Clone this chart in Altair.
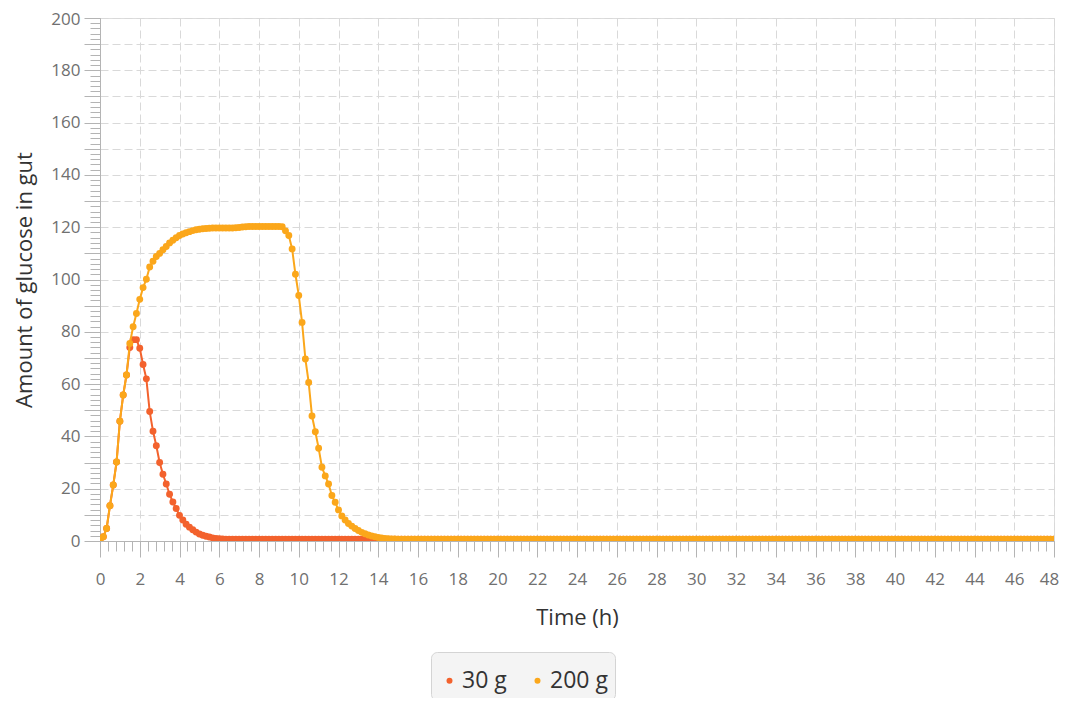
import altair as alt
import pandas as pd

# Amount of glucose in gut, sampled every 10 minutes from t = 0 h
g30 = [
    0.0, 1.6, 4.8, 13.5, 21.4, 30.2, 45.8, 55.8, 63.5, 74.0, 77.0, 77.0,
    73.7, 67.5, 62.0, 49.5, 42.0, 36.4, 30.0, 25.5, 21.8, 17.9, 14.9, 12.4,
    9.8, 8.0, 6.4, 5.3, 4.3, 3.4, 2.7, 2.2, 1.8, 1.5, 1.2, 1.0, 0.9, 0.8,
    0.7, 0.7, 0.7, 0.7, 0.7, 0.7, 0.7, 0.7, 0.7, 0.7, 0.7, 0.7, 0.7, 0.7, 0.7, 0.7, 0.7, 0.7, 0.7, 0.7,
    0.7, 0.7, 0.7, 0.7, 0.7, 0.7, 0.7, 0.7, 0.7, 0.7, 0.7, 0.7, 0.7, 0.7, 0.7, 0.7, 0.7, 0.7, 0.7, 0.7,
    0.7, 0.7, 0.7, 0.7, 0.7, 0.7, 0.7, 0.7, 0.7, 0.7, 0.7, 0.7, 0.7, 0.7, 0.7, 0.7, 0.7, 0.7, 0.7, 0.7,
    0.7, 0.7, 0.7, 0.7, 0.7, 0.7, 0.7, 0.7, 0.7, 0.7, 0.7, 0.7, 0.7, 0.7, 0.7, 0.7, 0.7, 0.7, 0.7, 0.7,
    0.7, 0.7, 0.7, 0.7, 0.7, 0.7, 0.7, 0.7, 0.7, 0.7, 0.7, 0.7, 0.7, 0.7, 0.7, 0.7, 0.7, 0.7, 0.7, 0.7,
    0.7, 0.7, 0.7, 0.7, 0.7, 0.7, 0.7, 0.7, 0.7, 0.7, 0.7, 0.7, 0.7, 0.7, 0.7, 0.7, 0.7, 0.7, 0.7, 0.7,
    0.7, 0.7, 0.7, 0.7, 0.7, 0.7, 0.7, 0.7, 0.7, 0.7, 0.7, 0.7, 0.7, 0.7, 0.7, 0.7, 0.7, 0.7, 0.7, 0.7,
    0.7, 0.7, 0.7, 0.7, 0.7, 0.7, 0.7, 0.7, 0.7, 0.7, 0.7, 0.7, 0.7, 0.7, 0.7, 0.7, 0.7, 0.7, 0.7, 0.7,
    0.7, 0.7, 0.7, 0.7, 0.7, 0.7, 0.7, 0.7, 0.7, 0.7, 0.7, 0.7, 0.7, 0.7, 0.7, 0.7, 0.7, 0.7, 0.7, 0.7,
    0.7, 0.7, 0.7, 0.7, 0.7, 0.7, 0.7, 0.7, 0.7, 0.7, 0.7, 0.7, 0.7, 0.7, 0.7, 0.7, 0.7, 0.7, 0.7, 0.7,
    0.7, 0.7, 0.7, 0.7, 0.7, 0.7, 0.7, 0.7, 0.7, 0.7, 0.7, 0.7, 0.7, 0.7, 0.7, 0.7, 0.7, 0.7, 0.7, 0.7,
    0.7, 0.7, 0.7, 0.7, 0.7, 0.7, 0.7, 0.7, 0.7, 0.7, 0.7, 0.7, 0.7, 0.7, 0.7, 0.7, 0.7, 0.7, 0.7, 0.7,
    0.7, 0.7, 0.7, 0.7, 0.7, 0.7, 0.7, 0.7, 0.7, 0.7, 0.7,
]

g200 = [
    0.0, 1.6, 4.8, 13.5, 21.4, 30.2, 45.8, 55.8, 63.5, 75.5, 81.9, 87.0,
    92.4, 96.9, 100.1, 104.8, 107.0, 108.8, 110.0, 111.4, 112.6, 114.0, 115.0, 116.0,
    116.8, 117.4, 117.9, 118.3, 118.7, 119.0, 119.2, 119.4, 119.5, 119.6,
    119.7, 119.7, 119.7, 119.7, 119.7, 119.7, 119.7, 119.8, 119.9,
    120.1, 120.2, 120.3, 120.3, 120.3, 120.3, 120.3, 120.3, 120.3, 120.3, 120.3, 120.3, 120.2,
    118.6, 116.8, 111.7, 102.0, 93.9, 83.6, 69.6, 60.6, 47.8, 41.8, 35.5, 28.2,
    24.9, 21.8, 17.4, 14.8, 11.9, 9.6, 8.0, 6.7, 5.7, 4.8, 4.0, 3.3,
    2.8, 2.3, 1.9, 1.6, 1.35, 1.15, 1.0, 0.9, 0.8, 0.75, 0.7,
    0.7, 0.7, 0.7, 0.7, 0.7, 0.7, 0.7, 0.7, 0.7, 0.7, 0.7, 0.7, 0.7, 0.7, 0.7, 0.7, 0.7, 0.7, 0.7, 0.7,
    0.7, 0.7, 0.7, 0.7, 0.7, 0.7, 0.7, 0.7, 0.7, 0.7, 0.7, 0.7, 0.7, 0.7, 0.7, 0.7, 0.7, 0.7, 0.7, 0.7,
    0.7, 0.7, 0.7, 0.7, 0.7, 0.7, 0.7, 0.7, 0.7, 0.7, 0.7, 0.7, 0.7, 0.7, 0.7, 0.7, 0.7, 0.7, 0.7, 0.7,
    0.7, 0.7, 0.7, 0.7, 0.7, 0.7, 0.7, 0.7, 0.7, 0.7, 0.7, 0.7, 0.7, 0.7, 0.7, 0.7, 0.7, 0.7, 0.7, 0.7,
    0.7, 0.7, 0.7, 0.7, 0.7, 0.7, 0.7, 0.7, 0.7, 0.7, 0.7, 0.7, 0.7, 0.7, 0.7, 0.7, 0.7, 0.7, 0.7, 0.7,
    0.7, 0.7, 0.7, 0.7, 0.7, 0.7, 0.7, 0.7, 0.7, 0.7, 0.7, 0.7, 0.7, 0.7, 0.7, 0.7, 0.7, 0.7, 0.7, 0.7,
    0.7, 0.7, 0.7, 0.7, 0.7, 0.7, 0.7, 0.7, 0.7, 0.7, 0.7, 0.7, 0.7, 0.7, 0.7, 0.7, 0.7, 0.7, 0.7, 0.7,
    0.7, 0.7, 0.7, 0.7, 0.7, 0.7, 0.7, 0.7, 0.7, 0.7, 0.7, 0.7, 0.7, 0.7, 0.7, 0.7, 0.7, 0.7, 0.7, 0.7,
    0.7, 0.7, 0.7, 0.7, 0.7, 0.7, 0.7, 0.7, 0.7, 0.7, 0.7, 0.7, 0.7, 0.7, 0.7, 0.7, 0.7, 0.7, 0.7, 0.7,
    0.7, 0.7, 0.7, 0.7, 0.7, 0.7, 0.7, 0.7, 0.7, 0.7, 0.7, 0.7, 0.7, 0.7, 0.7, 0.7, 0.7, 0.7,
]

series_names = ["30 g", "200 g"]
series_colors = ["#f3622d", "#fba71b"]
step_minutes = 10

x_major = list(range(0, 49, 2))
x_minor = [round(i * 0.4, 1) for i in range(121)]
y_major = list(range(0, 201, 10))
y_minor = list(range(0, 201, 2))

rows = []
for name, vals in zip(series_names, [g30, g200]):
    for i, v in enumerate(vals):
        rows.append({"t": i * step_minutes / 60.0, "v": v, "s": name})
df = pd.DataFrame(rows)

FONT = "Open Sans"
AX = "#b4b4b4"
GRID = "#d9d9d9"
LBL = "#707070"
TITLE = "#333333"

x_scale = alt.Scale(domain=[0, 48], nice=False, zero=False)
y_scale = alt.Scale(domain=[0, 200], nice=False)
color_scale = alt.Scale(domain=series_names, range=series_colors)

main_x = alt.Axis(
    values=x_major, orient="bottom", title="Time (h)", format="d",
    tickSize=16, tickColor=AX, domainColor=AX, labelFont=FONT, labelFontSize=17,
    labelColor=LBL, labelPadding=14, labelOverlap=False, labelFlush=False,
    labelOffset={"condition": {"test": "datum.value == 48", "value": -5}, "value": 0},
    titleFont=FONT, titleFontSize=22, titleFontWeight="normal", titleColor=TITLE,
    titlePadding=20, grid=True, gridColor=GRID, gridDash=[8, 4], gridWidth=1,
)
main_y = alt.Axis(
    values=y_major, orient="left", title="Amount of glucose in gut",
    labelExpr="datum.value % 20 == 0 ? datum.label : ''",
    labelOffset={"condition": {"test": "datum.value == 200", "value": 1.5}, "value": 0},
    tickSize=16, tickColor=AX, domainColor=AX, labelFont=FONT, labelFontSize=17,
    labelColor=LBL, labelPadding=4, labelOverlap=False, labelFlush=False,
    titleFont=FONT, titleFontSize=22, titleFontWeight="normal", titleColor=TITLE,
    titlePadding=14, grid=True, gridColor=GRID, gridDash=[8, 4], gridWidth=1,
)
minor_x = alt.Axis(values=x_minor, orient="bottom", title="", labels=False,
                   domain=False, grid=False, tickSize=10, tickColor=AX)
minor_y = alt.Axis(values=y_minor, orient="left", title="", labels=False,
                   domain=False, grid=False, tickSize=10, tickColor=AX)

legend = alt.Legend(
    orient="none", legendX=331, legendY=634, direction="horizontal",
    title=" ", titleFontSize=10, titlePadding=0,
    fillColor="#f4f4f4", strokeColor="#d4d4d4", cornerRadius=6, padding=7,
    labelFont=FONT, labelFontSize=23, labelColor="#333333",
    symbolType="circle", symbolSize=36, symbolStrokeWidth=0, symbolOpacity=1,
    labelOffset=1, columnPadding=19,
)

base = alt.Chart(df)

minor_layer = base.mark_point(opacity=0).encode(
    x=alt.X("t:Q", scale=x_scale, axis=minor_x),
    y=alt.Y("v:Q", scale=y_scale, axis=minor_y),
)


def line_layer(name, color, axes):
    return base.transform_filter(alt.datum.s == name).mark_line(
        strokeWidth=2, clip=True, color=color
    ).encode(
        x=alt.X("t:Q", scale=x_scale, axis=main_x if axes else None),
        y=alt.Y("v:Q", scale=y_scale, axis=main_y if axes else None),
    )


def point_layer(name):
    return base.transform_filter(alt.datum.s == name).mark_circle(
        size=48, opacity=1, clip=True
    ).encode(
        x=alt.X("t:Q", scale=x_scale, axis=None),
        y=alt.Y("v:Q", scale=y_scale, axis=None),
        color=alt.Color("s:N", scale=color_scale, legend=legend),
    )


chart = alt.layer(
    minor_layer,
    line_layer("30 g", series_colors[0], True),
    point_layer("30 g"),
    line_layer("200 g", series_colors[1], False),
    point_layer("200 g"),
).resolve_axis(
    x="independent", y="independent"
).properties(
    width=954, height=523,
    padding={"left": 92, "top": 10, "right": 7, "bottom": 157},
    autosize=alt.AutoSizeParams(type="none"),
    background="white",
).configure_view(stroke=None).configure(font=FONT)

chart.save("out.html", embed_options={"renderer": "svg", "actions": False})
